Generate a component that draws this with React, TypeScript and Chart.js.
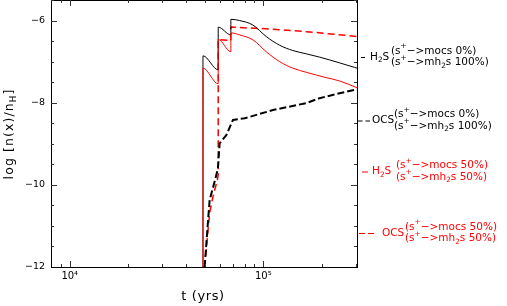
import React, { useEffect, useRef } from 'react';
import { Chart, registerables } from 'chart.js';

Chart.register(...registerables);

// ---- axis ticks ----
const tickTimes = [1e4, 1e5];
const tickTimeLabels = ['10⁴', '10⁵'];
const minorTimes = [9e3, 2e4, 3e4, 4e4, 5e4, 6e4, 7e4, 8e4, 9e4, 2e5, 3e5];
const tickValues = [-12, -10, -8, -6];
const minorValues = [-11.5, -11, -10.5, -9.5, -9, -8.5, -7.5, -7, -6.5, -5.5];

// ---- series: H2S (s+->mocs 0%, s+->mh2s 100%) ----
const h2s0T = [4.88e4, 4.88e4, 5.85e4, 5.85e4, 6.8e4, 6.8e4, 7.55e4, 8.84e4, 1.036e5, 1.214e5, 1.422e5, 1.667e5, 1.953e5, 2.477e5, 2.96e5, 3.1e5];
const h2s0V = [-12, -6.86, -7.2, -6.16, -6.35, -5.97, -6.0, -6.11, -6.39, -6.6, -6.73, -6.81, -6.89, -7.03, -7.14, -7.17];

// ---- series: OCS (s+->mocs 0%, s+->mh2s 100%) ----
const ocs0T = [4.977e4, 5.14e4, 5.283e4, 5.606e4, 5.83e4, 5.95e4, 6.44e4, 6.97e4, 8.01e4, 1.121e5, 1.667e5, 1.953e5, 2.477e5, 3.1e5];
const ocs0V = [-12, -11.1, -10.37, -9.92, -9.6, -8.99, -8.79, -8.42, -8.38, -8.18, -8.01, -7.89, -7.77, -7.67];

// ---- series: H2S (50% / 50%) ----
const h2s50T = [4.88e4, 4.88e4, 5.85e4, 5.85e4, 6.8e4, 6.8e4, 7.55e4, 8.84e4, 1.036e5, 1.214e5, 1.422e5, 1.667e5, 2.115e5, 2.477e5, 3.1e5];
const h2s50V = [-12, -7.16, -7.54, -6.46, -6.76, -6.3, -6.35, -6.47, -6.76, -7.0, -7.16, -7.26, -7.39, -7.47, -7.65];

// ---- series: OCS (50% / 50%) ----
const ocs50T = [4.977e4, 5.283e4, 5.494e4, 5.79e4, 5.85e4, 5.85e4, 6.8e4, 6.8e4, 1.121e5, 1.667e5, 3.1e5];
const ocs50V = [-12, -10.68, -10.29, -9.88, -9.75, -6.46, -6.49, -6.16, -6.21, -6.27, -6.39];

const RED = 'rgb(255,0,0)';
const BLACK = '#000';
const FONT = '"DejaVu Sans", "Liberation Sans", Arial, sans-serif';

type Run = { t: string; s?: 'sup' | 'sub' };

function runsWidth(ctx: CanvasRenderingContext2D, runs: Run[], size: number, spacing: number) {
  let w = 0;
  for (const r of runs) {
    const fs = r.s ? size * 0.7 : size;
    ctx.font = `${fs}px ${FONT}`;
    (ctx as any).letterSpacing = `${spacing}px`;
    w += ctx.measureText(r.t).width;
  }
  return w;
}

function drawRuns(ctx: CanvasRenderingContext2D, runs: Run[], x: number, y: number, size: number, color: string, spacing = 0) {
  let cx = x;
  ctx.fillStyle = color;
  ctx.textBaseline = 'middle';
  ctx.textAlign = 'left';
  for (const r of runs) {
    const fs = r.s ? size * 0.7 : size;
    ctx.font = `${fs}px ${FONT}`;
    (ctx as any).letterSpacing = `${spacing}px`;
    const dy = r.s === 'sup' ? -size * 0.42 : r.s === 'sub' ? size * 0.3 : 0;
    ctx.fillText(r.t, cx, y + dy);
    cx += ctx.measureText(r.t).width;
  }
  (ctx as any).letterSpacing = '0px';
}

const pts = (t: number[], v: number[]) => t.map((x, i) => ({ x, y: v[i] }));

const legendGroups = [
  { color: BLACK, dashed: false, sym: [361, 365], name: [{ t: 'H' }, { t: '2', s: 'sub' }, { t: 'S' }] as Run[], nameX: 370, parX: 391, cy: 57,
    top: [{ t: '(s' }, { t: '+', s: 'sup' }, { t: '−>mocs 0%)' }] as Run[],
    bot: [{ t: '(s' }, { t: '+', s: 'sup' }, { t: '−>mh' }, { t: '2', s: 'sub' }, { t: 's 100%)' }] as Run[] },
  { color: BLACK, dashed: true, sym: [358, 370], name: [{ t: 'OCS' }] as Run[], nameX: 372, parX: 394, cy: 120.5,
    top: [{ t: '(s' }, { t: '+', s: 'sup' }, { t: '−>mocs 0%)' }] as Run[],
    bot: [{ t: '(s' }, { t: '+', s: 'sup' }, { t: '−>mh' }, { t: '2', s: 'sub' }, { t: 's 100%)' }] as Run[] },
  { color: RED, dashed: false, sym: [362, 368], name: [{ t: 'H' }, { t: '2', s: 'sub' }, { t: 'S' }] as Run[], nameX: 372, parX: 396, cy: 171.5,
    top: [{ t: '(s' }, { t: '+', s: 'sup' }, { t: '−>mocs 50%)' }] as Run[],
    bot: [{ t: '(s' }, { t: '+', s: 'sup' }, { t: '−>mh' }, { t: '2', s: 'sub' }, { t: 's 50%)' }] as Run[] },
  { color: RED, dashed: true, sym: [359, 374], name: [{ t: 'OCS' }] as Run[], nameX: 382, parX: 405, cy: 233,
    top: [{ t: '(s' }, { t: '+', s: 'sup' }, { t: '−>mocs 50%)' }] as Run[],
    bot: [{ t: '(s' }, { t: '+', s: 'sup' }, { t: '−>mh' }, { t: '2', s: 'sub' }, { t: 's 50%)' }] as Run[] },
];

const decorPlugin = {
  id: 'decor',
  afterDraw(chart: any) {
    const ctx: CanvasRenderingContext2D = chart.ctx;
    const { left, right, top, bottom } = chart.chartArea;
    const xs = chart.scales.x;
    const ys = chart.scales.y;
    ctx.save();
    // frame
    ctx.strokeStyle = '#000';
    ctx.lineWidth = 1;
    ctx.setLineDash([]);
    ctx.strokeRect(Math.round(left) + 0.5, Math.round(top) + 0.5, Math.round(right - left), Math.round(bottom - top));
    // ticks (inward, all four sides)
    ctx.strokeStyle = '#333';
    ctx.beginPath();
    const xt = (v: number, len: number) => {
      const p = Math.round(xs.getPixelForValue(v)) + 0.5;
      if (p < left || p > right) return;
      ctx.moveTo(p, bottom); ctx.lineTo(p, bottom - len);
      ctx.moveTo(p, top); ctx.lineTo(p, top + len);
    };
    const yt = (v: number, len: number) => {
      const p = Math.round(ys.getPixelForValue(v)) + 0.5;
      if (p < top || p > bottom) return;
      ctx.moveTo(left, p); ctx.lineTo(left + len, p);
      ctx.moveTo(right, p); ctx.lineTo(right - len, p);
    };
    tickTimes.forEach((v) => xt(v, 6));
    minorTimes.forEach((v) => xt(v, 3));
    tickValues.forEach((v) => yt(v, 6));
    minorValues.forEach((v) => yt(v, 3));
    ctx.stroke();

    // x title
    const xTitle: Run[] = [{ t: 't (yrs)' }];
    const xw = runsWidth(ctx, xTitle, 13, 0.6);
    drawRuns(ctx, xTitle, 203 - xw / 2, 297, 13, '#000', 0.6);

    // y title
    const yTitle: Run[] = [{ t: 'log [n(x)/n' }, { t: 'H', s: 'sub' }, { t: ']' }];
    ctx.save();
    ctx.translate(10, 134);
    ctx.rotate(-Math.PI / 2);
    const yw = runsWidth(ctx, yTitle, 12.5, 1.1);
    drawRuns(ctx, yTitle, -yw / 2, 0, 12.5, '#000', 1.1);
    ctx.restore();

    // legend annotations
    for (const g of legendGroups) {
      ctx.strokeStyle = g.color;
      ctx.lineWidth = 1;
      ctx.beginPath();
      if (g.dashed) {
        const mid = (g.sym[0] + g.sym[1]) / 2;
        ctx.moveTo(g.sym[0], g.cy + 0.5); ctx.lineTo(mid - 1.5, g.cy + 0.5);
        ctx.moveTo(mid + 1.5, g.cy + 0.5); ctx.lineTo(g.sym[1], g.cy + 0.5);
      } else {
        ctx.moveTo(g.sym[0], g.cy + 0.5); ctx.lineTo(g.sym[1], g.cy + 0.5);
      }
      ctx.stroke();
      drawRuns(ctx, g.name, g.nameX, g.cy, 10.5, g.color);
      drawRuns(ctx, g.top, g.parX, g.cy - 6, 10.5, g.color);
      drawRuns(ctx, g.bot, g.parX, g.cy + 5.5, 10.5, g.color);
    }
    ctx.restore();
  },
};

export default function App() {
  const ref = useRef<HTMLCanvasElement>(null);
  useEffect(() => {
    if (!ref.current) return;
    const chart = new Chart(ref.current, {
      type: 'scatter',
      data: {
        datasets: [
          { label: 'OCS 0%', data: pts(ocs0T, ocs0V), borderColor: BLACK, borderWidth: 2, borderDash: [7, 3], showLine: true, pointRadius: 0, fill: false },
          { label: 'H2S 50%', data: pts(h2s50T, h2s50V), borderColor: RED, borderWidth: 1, showLine: true, pointRadius: 0, fill: false, cubicInterpolationMode: 'monotone' },
          { label: 'H2S 0%', data: pts(h2s0T, h2s0V), borderColor: BLACK, borderWidth: 1, showLine: true, pointRadius: 0, fill: false, cubicInterpolationMode: 'monotone' },
          { label: 'OCS 50%', data: pts(ocs50T, ocs50V), borderColor: RED, borderWidth: 1.5, borderDash: [7, 4], showLine: true, pointRadius: 0, fill: false },
        ] as any,
      },
      options: {
        animation: false,
        responsive: false,
        maintainAspectRatio: false,
        layout: { padding: { left: 0, right: 150, top: 0, bottom: 0 } },
        plugins: { legend: { display: false }, tooltip: { enabled: false } },
        scales: {
          x: {
            type: 'logarithmic',
            min: 8000,
            max: 3.05e5,
            grid: { display: false, drawTicks: false },
            border: { display: false },
            afterBuildTicks: (s: any) => { s.ticks = tickTimes.map((v) => ({ value: v })); },
            afterFit: (s: any) => { s.height = 39; s.paddingLeft = 0; s.paddingRight = 0; },
            ticks: {
              autoSkip: false,
              maxRotation: 0,
              padding: 3,
              color: '#000',
              font: { family: FONT, size: 10 },
              callback: (v: any) => {
                const i = tickTimes.findIndex((t) => Math.abs(t - Number(v)) / t < 1e-6);
                return i >= 0 ? tickTimeLabels[i] : '';
              },
            },
          },
          y: {
            type: 'linear',
            min: -12,
            max: -5.5,
            grid: { display: false, drawTicks: false },
            border: { display: false },
            afterBuildTicks: (s: any) => { s.ticks = tickValues.map((v) => ({ value: v })); },
            afterFit: (s: any) => { s.width = 51; s.paddingTop = 0; s.paddingBottom = 0; },
            ticks: {
              padding: 6,
              color: '#000',
              font: { family: FONT, size: 9.5 },
              callback: (v: any) => (Number(v) < 0 ? '−' + Math.abs(Number(v)) : String(v)),
            },
          },
        },
      } as any,
      plugins: [decorPlugin],
    });
    return () => chart.destroy();
  }, []);
  return (
    <div style={{ position: 'absolute', left: 0, top: 0, width: 507, height: 306, background: '#fff' }}>
      <canvas ref={ref} width={507} height={306} style={{ display: 'block', width: 507, height: 306 }} />
    </div>
  );
}
